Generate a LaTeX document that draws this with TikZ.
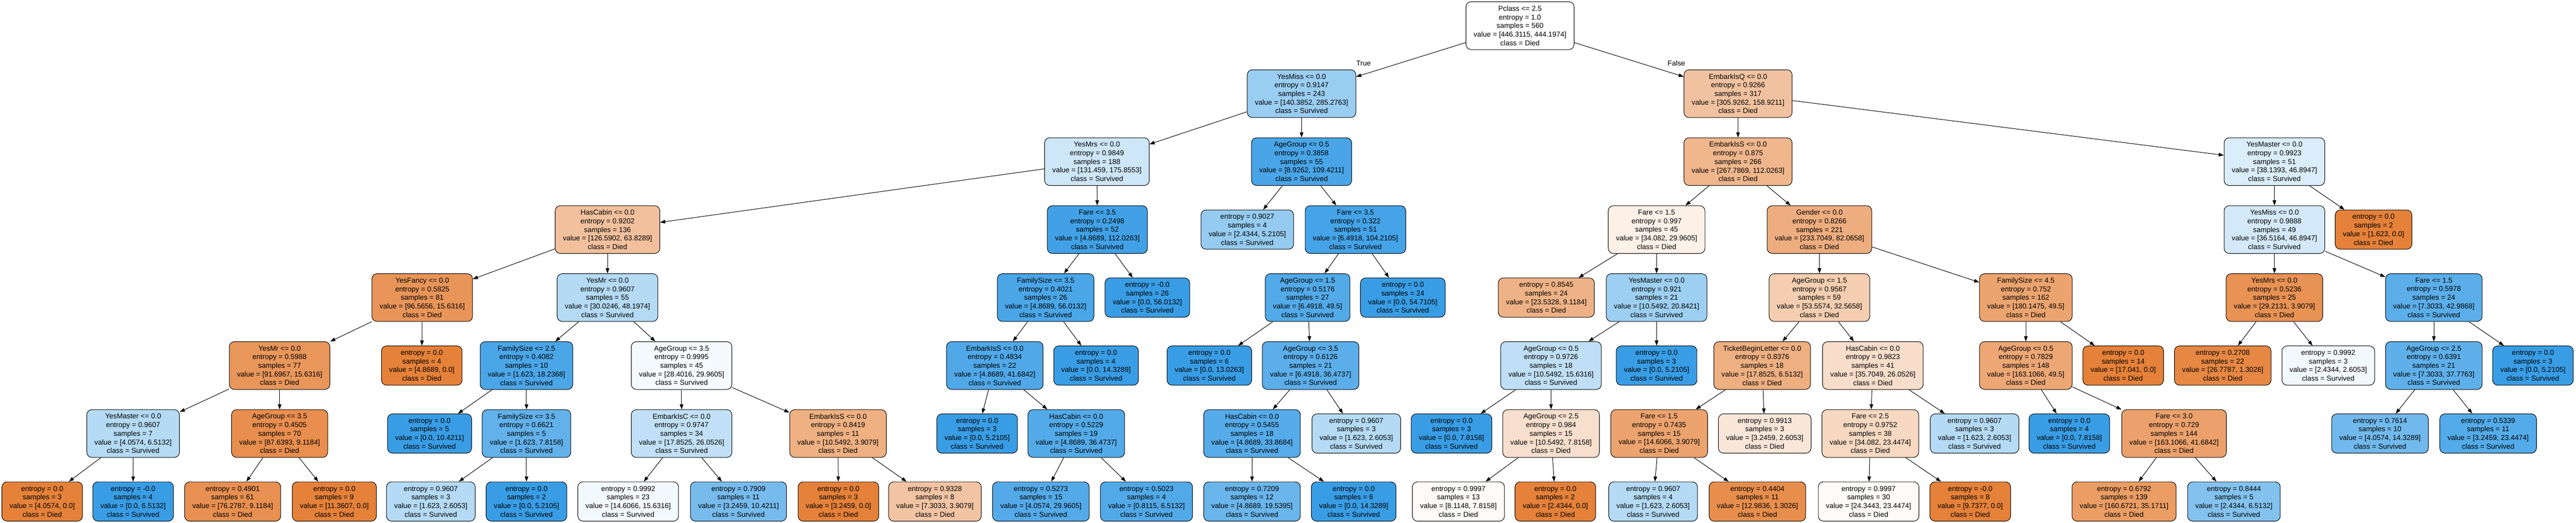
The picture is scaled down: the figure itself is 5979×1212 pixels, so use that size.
\documentclass[tikz,border=0pt]{standalone}
\usepackage{fontspec}
\setmainfont{Liberation Sans}
\usetikzlibrary{arrows.meta}
\definecolor{died}{RGB}{229,129,57}
\definecolor{surv}{RGB}{57,157,229}
\tikzset{
  base/.style={draw=black, line width=1pt, rounded corners=10pt, align=center,
    font=\fontsize{14}{16.8}\selectfont, inner xsep=15pt, inner ysep=6pt},
  decD/.style={base, minimum height=93pt, fill=died!#1!white},
  decS/.style={base, minimum height=93pt, fill=surv!#1!white},
  leafD/.style={base, minimum height=76.5pt, fill=died!#1!white},
  leafS/.style={base, minimum height=76.5pt, fill=surv!#1!white},
  edge/.style={-{Triangle[length=10pt,width=7pt]}, line width=1pt, black},
  lbl/.style={font=\fontsize{14}{16.8}\selectfont, inner sep=0pt}
}
\begin{document}
\begin{tikzpicture}[x=0.84pt, y=-0.84pt]
\fill[white] (0,0) rectangle (5979,1212);
\useasboundingbox (0,0) rectangle (5979,1212);
% Level 0
\node[decD=0.5] (n0) at (3528,59.5) {Pclass <= 2.5\\entropy = 1.0\\samples = 560\\value = [446.3115, 444.1974]\\class = Died};
% Level 1
\node[decS=50.8] (n1) at (3021,217.1) {YesMiss <= 0.0\\entropy = 0.9147\\samples = 243\\value = [140.3852, 285.2763]\\class = Survived};
\node[decD=48.1] (n2) at (4034,217.1) {EmbarkIsQ <= 0.0\\entropy = 0.9266\\samples = 317\\value = [305.9262, 158.9211]\\class = Died};
% Level 2
\node[decS=25.2] (n3) at (2546,374.7) {YesMrs <= 0.0\\entropy = 0.9849\\samples = 188\\value = [131.459, 175.8553]\\class = Survived};
\node[decS=91.8] (n4) at (3021,374.7) {AgeGroup <= 0.5\\entropy = 0.3858\\samples = 55\\value = [8.9262, 109.4211]\\class = Survived};
\node[decD=58.2] (n5) at (4034,374.7) {EmbarkIsS <= 0.0\\entropy = 0.875\\samples = 266\\value = [267.7869, 112.0263]\\class = Died};
\node[decS=18.7] (n6) at (5279,374.7) {YesMaster <= 0.0\\entropy = 0.9923\\samples = 51\\value = [38.1393, 46.8947]\\class = Survived};
% Level 3
\node[decD=49.6] (n7) at (1410,532.3) {HasCabin <= 0.0\\entropy = 0.9202\\samples = 136\\value = [126.5902, 63.8289]\\class = Died};
\node[decS=95.7] (n8) at (2547,532.3) {Fare <= 3.5\\entropy = 0.2498\\samples = 52\\value = [4.8689, 112.0263]\\class = Survived};
\node[leafS=53.3] (n9) at (2895,532.3) {entropy = 0.9027\\samples = 4\\value = [2.4344, 5.2105]\\class = Survived};
\node[decS=93.8] (n10) at (3146,532.3) {Fare <= 3.5\\entropy = 0.322\\samples = 51\\value = [6.4918, 104.2105]\\class = Survived};
\node[decD=12.1] (n11) at (3845,532.3) {Fare <= 1.5\\entropy = 0.997\\samples = 45\\value = [34.082, 29.9605]\\class = Died};
\node[decD=64.9] (n12) at (4223,532.3) {Gender <= 0.0\\entropy = 0.8266\\samples = 221\\value = [233.7049, 82.0658]\\class = Died};
\node[decS=22.1] (n13) at (5279,532.3) {YesMiss <= 0.0\\entropy = 0.9888\\samples = 49\\value = [36.5164, 46.8947]\\class = Survived};
\node[leafD=100] (n14) at (5509,532.3) {entropy = 0.0\\samples = 2\\value = [1.623, 0.0]\\class = Died};
% Level 4
\node[decD=83.8] (n15) at (980,689.9) {YesFancy <= 0.0\\entropy = 0.5825\\samples = 81\\value = [96.5656, 15.6316]\\class = Died};
\node[decS=37.7] (n16) at (1410,689.9) {YesMr <= 0.0\\entropy = 0.9607\\samples = 55\\value = [30.0246, 48.1974]\\class = Survived};
\node[decS=91.3] (n17) at (2427,689.9) {FamilySize <= 3.5\\entropy = 0.4021\\samples = 26\\value = [4.8689, 56.0132]\\class = Survived};
\node[leafS=100] (n18) at (2663,689.9) {entropy = -0.0\\samples = 26\\value = [0.0, 56.0132]\\class = Survived};
\node[decS=86.9] (n19) at (3035,689.9) {AgeGroup <= 1.5\\entropy = 0.5176\\samples = 27\\value = [6.4918, 49.5]\\class = Survived};
\node[leafS=100] (n20) at (3256,689.9) {entropy = 0.0\\samples = 24\\value = [0.0, 54.7105]\\class = Survived};
\node[leafD=61.3] (n21) at (3589,689.9) {entropy = 0.8545\\samples = 24\\value = [23.5328, 9.1184]\\class = Died};
\node[decS=49.4] (n22) at (3845,689.9) {YesMaster <= 0.0\\entropy = 0.921\\samples = 21\\value = [10.5492, 20.8421]\\class = Survived};
\node[decD=39.2] (n23) at (4223,689.9) {AgeGroup <= 1.5\\entropy = 0.9567\\samples = 59\\value = [53.5574, 32.5658]\\class = Died};
\node[decD=72.5] (n24) at (4702,689.9) {FamilySize <= 4.5\\entropy = 0.752\\samples = 162\\value = [180.1475, 49.5]\\class = Died};
\node[decD=86.6] (n25) at (5279,689.9) {YesMrs <= 0.0\\entropy = 0.5236\\samples = 25\\value = [29.2131, 3.9079]\\class = Died};
\node[decS=83.0] (n26) at (5649,689.9) {Fare <= 1.5\\entropy = 0.5978\\samples = 24\\value = [7.3033, 42.9868]\\class = Survived};
% Level 5
\node[decD=83.0] (n27) at (649,847.5) {YesMr <= 0.0\\entropy = 0.5988\\samples = 77\\value = [91.6967, 15.6316]\\class = Died};
\node[leafD=100] (n28) at (979,847.5) {entropy = 0.0\\samples = 4\\value = [4.8689, 0.0]\\class = Died};
\node[decS=91.1] (n29) at (1222,847.5) {FamilySize <= 2.5\\entropy = 0.4082\\samples = 10\\value = [1.623, 18.2368]\\class = Survived};
\node[decS=5.2] (n30) at (1582,847.5) {AgeGroup <= 3.5\\entropy = 0.9995\\samples = 45\\value = [28.4016, 29.9605]\\class = Survived};
\node[decS=88.3] (n31) at (2309,847.5) {EmbarkIsS <= 0.0\\entropy = 0.4834\\samples = 22\\value = [4.8689, 41.6842]\\class = Survived};
\node[leafS=100] (n32) at (2544,847.5) {entropy = 0.0\\samples = 4\\value = [0.0, 14.3289]\\class = Survived};
\node[leafS=100] (n33) at (2807,847.5) {entropy = 0.0\\samples = 6\\value = [0.0, 13.0263]\\class = Survived};
\node[decS=82.2] (n34) at (3042,847.5) {AgeGroup <= 3.5\\entropy = 0.6126\\samples = 21\\value = [6.4918, 36.4737]\\class = Survived};
\node[decS=32.5] (n35) at (3600,847.5) {AgeGroup <= 0.5\\entropy = 0.9726\\samples = 18\\value = [10.5492, 15.6316]\\class = Survived};
\node[leafS=100] (n36) at (3845,847.5) {entropy = 0.0\\samples = 3\\value = [0.0, 5.2105]\\class = Survived};
\node[decD=63.5] (n37) at (4090,847.5) {TicketBeginLetter <= 0.0\\entropy = 0.8376\\samples = 18\\value = [17.8525, 6.5132]\\class = Died};
\node[decD=27.0] (n38) at (4347,847.5) {HasCabin <= 0.0\\entropy = 0.9823\\samples = 41\\value = [35.7049, 26.0526]\\class = Died};
\node[decD=69.7] (n39) at (4702,847.5) {AgeGroup <= 0.5\\entropy = 0.7829\\samples = 148\\value = [163.1066, 49.5]\\class = Died};
\node[leafD=100] (n40) at (4928,847.5) {entropy = 0.0\\samples = 14\\value = [17.041, 0.0]\\class = Died};
\node[leafD=95.1] (n41) at (5159,847.5) {entropy = 0.2708\\samples = 22\\value = [26.7787, 1.3026]\\class = Died};
\node[leafS=6.6] (n42) at (5404,847.5) {entropy = 0.9992\\samples = 3\\value = [2.4344, 2.6053]\\class = Survived};
\node[decS=80.7] (n43) at (5649,847.5) {AgeGroup <= 2.5\\entropy = 0.6391\\samples = 21\\value = [7.3033, 37.7763]\\class = Survived};
\node[leafS=100] (n44) at (5879,847.5) {entropy = 0.0\\samples = 3\\value = [0.0, 5.2105]\\class = Survived};
% Level 6
\node[decS=37.7] (n45) at (309,1005.1) {YesMaster <= 0.0\\entropy = 0.9607\\samples = 7\\value = [4.0574, 6.5132]\\class = Survived};
\node[decD=89.6] (n46) at (649,1005.1) {AgeGroup <= 3.5\\entropy = 0.4505\\samples = 70\\value = [87.6393, 9.1184]\\class = Died};
\node[leafS=100] (n47) at (997,1005.1) {entropy = 0.0\\samples = 5\\value = [0.0, 10.4211]\\class = Survived};
\node[decS=79.2] (n48) at (1222,1005.1) {FamilySize <= 3.5\\entropy = 0.6621\\samples = 5\\value = [1.623, 7.8158]\\class = Survived};
\node[decS=31.5] (n49) at (1582,1005.1) {EmbarkIsC <= 0.0\\entropy = 0.9747\\samples = 34\\value = [17.8525, 26.0526]\\class = Survived};
\node[decD=63.0] (n50) at (1945,1005.1) {EmbarkIsS <= 0.0\\entropy = 0.8419\\samples = 11\\value = [10.5492, 3.9079]\\class = Died};
\node[leafS=100] (n51) at (2268,1005.1) {entropy = 0.0\\samples = 3\\value = [0.0, 5.2105]\\class = Survived};
\node[decS=86.7] (n52) at (2498,1005.1) {HasCabin <= 0.0\\entropy = 0.5229\\samples = 19\\value = [4.8689, 36.4737]\\class = Survived};
\node[decS=85.6] (n53) at (2906,1005.1) {HasCabin <= 0.0\\entropy = 0.5455\\samples = 18\\value = [4.8689, 33.8684]\\class = Survived};
\node[leafS=37.7] (n54) at (3148,1005.1) {entropy = 0.9607\\samples = 3\\value = [1.623, 2.6053]\\class = Survived};
\node[leafS=100] (n55) at (3369,1005.1) {entropy = 0.0\\samples = 3\\value = [0.0, 7.8158]\\class = Survived};
\node[decD=25.9] (n56) at (3600,1005.1) {AgeGroup <= 2.5\\entropy = 0.984\\samples = 15\\value = [10.5492, 7.8158]\\class = Died};
\node[decD=73.2] (n57) at (3851,1005.1) {Fare <= 1.5\\entropy = 0.7435\\samples = 15\\value = [14.6066, 3.9079]\\class = Died};
\node[leafD=19.7] (n58) at (4096,1005.1) {entropy = 0.9913\\samples = 3\\value = [3.2459, 2.6053]\\class = Died};
\node[decD=31.2] (n59) at (4341,1005.1) {Fare <= 2.5\\entropy = 0.9752\\samples = 38\\value = [34.082, 23.4474]\\class = Died};
\node[leafS=37.7] (n60) at (4583,1005.1) {entropy = 0.9607\\samples = 3\\value = [1.623, 2.6053]\\class = Survived};
\node[leafS=100] (n61) at (4803,1005.1) {entropy = 0.0\\samples = 4\\value = [0.0, 7.8158]\\class = Survived};
\node[decD=74.4] (n62) at (5046,1005.1) {Fare <= 3.0\\entropy = 0.729\\samples = 144\\value = [163.1066, 41.6842]\\class = Died};
\node[leafS=71.7] (n63) at (5524,1005.1) {entropy = 0.7614\\samples = 10\\value = [4.0574, 14.3289]\\class = Survived};
\node[leafS=86.2] (n64) at (5775,1005.1) {entropy = 0.5339\\samples = 11\\value = [3.2459, 23.4474]\\class = Survived};
% Level 7
\node[leafD=100] (n65) at (98,1162.7) {entropy = 0.0\\samples = 3\\value = [4.0574, 0.0]\\class = Died};
\node[leafS=100] (n66) at (309,1162.7) {entropy = -0.0\\samples = 4\\value = [0.0, 6.5132]\\class = Survived};
\node[leafD=88.0] (n67) at (540,1162.7) {entropy = 0.4901\\samples = 61\\value = [76.2787, 9.1184]\\class = Died};
\node[leafD=100] (n68) at (776,1162.7) {entropy = 0.0\\samples = 9\\value = [11.3607, 0.0]\\class = Died};
\node[leafS=37.7] (n69) at (1000,1162.7) {entropy = 0.9607\\samples = 3\\value = [1.623, 2.6053]\\class = Survived};
\node[leafS=100] (n70) at (1222,1162.7) {entropy = 0.0\\samples = 2\\value = [0.0, 5.2105]\\class = Survived};
\node[leafS=6.6] (n71) at (1458,1162.7) {entropy = 0.9992\\samples = 23\\value = [14.6066, 15.6316]\\class = Survived};
\node[leafS=68.9] (n72) at (1714,1162.7) {entropy = 0.7909\\samples = 11\\value = [3.2459, 10.4211]\\class = Survived};
\node[leafD=100] (n73) at (1946,1162.7) {entropy = 0.0\\samples = 3\\value = [3.2459, 0.0]\\class = Died};
\node[leafD=46.5] (n74) at (2170,1162.7) {entropy = 0.9328\\samples = 8\\value = [7.3033, 3.9079]\\class = Died};
\node[leafS=86.5] (n75) at (2416,1162.7) {entropy = 0.5273\\samples = 15\\value = [4.0574, 29.9605]\\class = Survived};
\node[leafS=87.5] (n76) at (2661,1162.7) {entropy = 0.5023\\samples = 4\\value = [0.8115, 6.5132]\\class = Survived};
\node[leafS=75.1] (n77) at (2906,1162.7) {entropy = 0.7209\\samples = 12\\value = [4.8689, 19.5395]\\class = Survived};
\node[leafS=100] (n78) at (3142,1162.7) {entropy = 0.0\\samples = 6\\value = [0.0, 14.3289]\\class = Survived};
\node[leafD=3.7] (n79) at (3385,1162.7) {entropy = 0.9997\\samples = 13\\value = [8.1148, 7.8158]\\class = Died};
\node[leafD=100] (n80) at (3610,1162.7) {entropy = 0.0\\samples = 2\\value = [2.4344, 0.0]\\class = Died};
\node[leafS=37.7] (n81) at (3837,1162.7) {entropy = 0.9607\\samples = 4\\value = [1.623, 2.6053]\\class = Survived};
\node[leafD=90.0] (n82) at (4079,1162.7) {entropy = 0.4404\\samples = 11\\value = [12.9836, 1.3026]\\class = Died};
\node[leafD=3.7] (n83) at (4337,1162.7) {entropy = 0.9997\\samples = 30\\value = [24.3443, 23.4474]\\class = Died};
\node[leafD=100] (n84) at (4573,1162.7) {entropy = -0.0\\samples = 8\\value = [9.7377, 0.0]\\class = Died};
\node[leafD=78.1] (n85) at (4930,1162.7) {entropy = 0.6792\\samples = 139\\value = [160.6721, 35.1711]\\class = Died};
\node[leafS=62.6] (n86) at (5185,1162.7) {entropy = 0.8444\\samples = 5\\value = [2.4344, 6.5132]\\class = Survived};
% Edges
\foreach \p/\c in {n0/n1,n0/n2,n1/n3,n1/n4,n2/n5,n2/n6,n3/n7,n3/n8,n4/n9,n4/n10,
  n5/n11,n5/n12,n6/n13,n6/n14,n7/n15,n7/n16,n8/n17,n8/n18,n10/n19,n10/n20,
  n11/n21,n11/n22,n12/n23,n12/n24,n13/n25,n13/n26,n15/n27,n15/n28,n16/n29,n16/n30,
  n17/n31,n17/n32,n19/n33,n19/n34,n22/n35,n22/n36,n23/n37,n23/n38,n24/n39,n24/n40,
  n25/n41,n25/n42,n26/n43,n26/n44,n27/n45,n27/n46,n29/n47,n29/n48,n30/n49,n30/n50,
  n31/n51,n31/n52,n34/n53,n34/n54,n35/n55,n35/n56,n37/n57,n37/n58,n38/n59,n38/n60,
  n39/n61,n39/n62,n43/n63,n43/n64,n45/n65,n45/n66,n46/n67,n46/n68,n48/n69,n48/n70,
  n49/n71,n49/n72,n50/n73,n50/n74,n52/n75,n52/n76,n53/n77,n53/n78,n56/n79,n56/n80,
  n57/n81,n57/n82,n59/n83,n59/n84,n62/n85,n62/n86}
  \draw[edge] (\p) -- (\c);
\node[lbl] (ltrue) at (3165,147) {True};
\node[lbl] (lfalse) at (3891,147) {False};
\end{tikzpicture}
\end{document}
